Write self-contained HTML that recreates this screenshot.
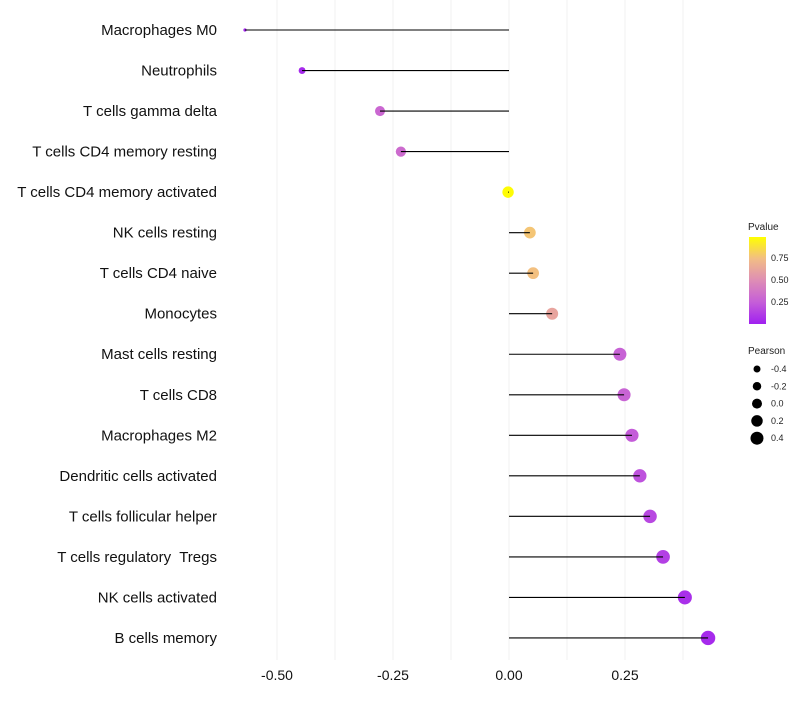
<!DOCTYPE html>
<html><head><meta charset="utf-8"><style>
body{margin:0;background:#fff;font-family:"Liberation Sans",sans-serif}
</style></head><body>
<svg id="chart" width="800" height="700" xmlns="http://www.w3.org/2000/svg">
<defs><linearGradient id="pg" x1="0" y1="1" x2="0" y2="0">
<stop offset="0" stop-color="#A020F0"/><stop offset="0.25" stop-color="#C55ED8"/>
<stop offset="0.5" stop-color="#DE8DB5"/><stop offset="0.75" stop-color="#F2BD85"/>
<stop offset="1" stop-color="#FFFF00"/></linearGradient></defs>
<g id="grid"></g><g id="marks"></g><g id="labels"></g>
<g font-size="9" fill="#222">
<text x="748" y="230" font-size="10">Pvalue</text>
<rect x="749" y="237" width="17" height="87" fill="url(#pg)"/>
<text x="771" y="261">0.75</text><text x="771" y="283">0.50</text><text x="771" y="305">0.25</text>
</g>
<g font-size="9" fill="#222">
<text x="748" y="354" font-size="10">Pearson</text>
<g id="sizeleg"></g>
</g>
</svg>
<script>
const categories=["Macrophages M0","Neutrophils","T cells gamma delta","T cells CD4 memory resting","T cells CD4 memory activated","NK cells resting","T cells CD4 naive","Monocytes","Mast cells resting","T cells CD8","Macrophages M2","Dendritic cells activated","T cells follicular helper","T cells regulatory  Tregs","NK cells activated","B cells memory"];
const pearson=[-0.569,-0.446,-0.278,-0.233,-0.002,0.045,0.052,0.093,0.239,0.248,0.265,0.282,0.304,0.332,0.379,0.429];
const pvalue=[0.02,0.04,0.3,0.32,0.99,0.78,0.76,0.62,0.27,0.28,0.24,0.2,0.16,0.13,0.06,0.04];
const xTicks=[-0.5,-0.25,0,0.25];
const xTickLabels=["-0.50","-0.25","0.00","0.25"];
const sizeLegend=[-0.4,-0.2,0,0.2,0.4];
const sizeLegendLabels=["-0.4","-0.2","0.0","0.2","0.4"];
const NS="http://www.w3.org/2000/svg";
const X=v=>509+v*464;
const Y=i=>30+i*40.53;
const rk=[[-0.6,1.3],[-0.57,1.6],[-0.45,3.4],[-0.28,5],[0,5.7],[0.24,6.5],[0.45,7.3]];
function R(v){for(let k=1;k<rk.length;k++){if(v<=rk[k][0]){const a=rk[k-1],b=rk[k];return a[1]+(b[1]-a[1])*(v-a[0])/(b[0]-a[0]);}}return 7.3;}
const RL=v=>5+v*3.75;
const stops=[[0,[160,32,240]],[0.25,[197,94,216]],[0.5,[222,141,181]],[0.75,[242,189,133]],[1,[255,255,0]]];
function col(p){for(let k=1;k<stops.length;k++){if(p<=stops[k][0]){const a=stops[k-1],b=stops[k],t=(p-a[0])/(b[0]-a[0]);return `rgb(${a[1].map((c,j)=>Math.round(c+(b[1][j]-c)*t)).join(',')})`;}}return 'rgb(255,255,0)';}
function mk(tag,at,parent){const e=document.createElementNS(NS,tag);for(const k in at)e.setAttribute(k,at[k]);parent.appendChild(e);return e;}
const grid=document.getElementById('grid'),marks=document.getElementById('marks'),labels=document.getElementById('labels');
for(let v=-0.5;v<=0.375001;v+=0.125){const l=mk('line',{x1:X(v),x2:X(v),y1:0,y2:660,stroke:'#f0f0f0','stroke-width':1},grid);

}
xTicks.forEach((v,i)=>{const t=mk('text',{x:X(v),y:680,'text-anchor':'middle','font-size':14,fill:'#111'},labels);t.textContent=xTickLabels[i];

});
categories.forEach((c,i)=>{
const t=mk('text',{x:217,y:Y(i)+5,'text-anchor':'end','font-size':15,fill:'#111','xml:space':'preserve'},labels);t.textContent=c;
t.setAttribute('style','white-space:pre');


const ci=mk('circle',{cx:X(pearson[i]),cy:Y(i),r:R(pearson[i]),fill:col(pvalue[i])},marks);


const ln=mk('line',{x1:X(0),x2:X(pearson[i]),y1:Y(i),y2:Y(i),stroke:'#000','stroke-width':1.1},marks);


});
const sl=document.getElementById('sizeleg');
sizeLegend.forEach((v,i)=>{const y=369+i*17.3;
const c=mk('circle',{cx:757,cy:y,r:RL(v),fill:'#000'},sl);


const t=mk('text',{x:771,y:y+3},sl);t.textContent=sizeLegendLabels[i];

});
</script>
</body></html>
